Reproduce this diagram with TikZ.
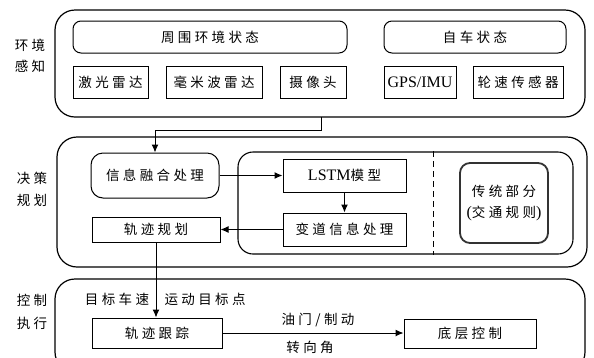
\documentclass[tikz,border=0pt]{standalone}
\usepackage{fontspec}
\setmainfont{Liberation Serif}
\newfontfamily\zhfont{Noto Sans CJK SC}[LetterSpace=25]
\newcommand{\en}[1]{{\rmfamily\fontsize{16}{18}\selectfont #1}}
\usetikzlibrary{arrows.meta}

\begin{document}
\begin{tikzpicture}[x=1pt,y=-1pt,
	every node/.style={font=\zhfont\fontsize{13.5}{16}\selectfont,inner sep=0pt},
	stage/.style={draw,line width=1.2pt,rounded corners=20pt},
	rbox/.style={draw,line width=1pt,rounded corners=8pt},
	sbox/.style={draw,line width=1pt},
	arr/.style={line width=1pt,-{Latex[length=8pt,width=7pt]}}]
	\useasboundingbox (0,0) rectangle (594,357);
	\clip (0,0) rectangle (594,357);
	\node[stage,minimum width=530pt,minimum height=107pt] (perc) at (320,63.5) {};
	\node[stage,minimum width=530pt,minimum height=130pt] (plan) at (322,202) {};
	\node[stage,minimum width=530pt,minimum height=93pt] (ctrl) at (320,325.5) {};
	\node (perc1) at (30,45) {环境};
	\node (perc2) at (30,66) {感知};
	\node (plan1) at (32,178) {决策};
	\node (plan2) at (32,200) {规划};
	\node (ctrl1) at (32,300) {控制};
	\node (ctrl2) at (32,323) {执行};
	\node[rbox,minimum width=274pt,minimum height=32pt] (env) at (210,37) {周围环境状态};
	\node[rbox,minimum width=182pt,minimum height=32pt] (ego) at (475,37) {自车状态};
	\node[sbox,minimum width=75pt,minimum height=32pt] (lidar) at (110.5,82) {激光雷达};
	\node[sbox,minimum width=96pt,minimum height=32pt] (radar) at (214,82) {毫米波雷达};
	\node[sbox,minimum width=66pt,minimum height=32pt] (cam) at (313,82) {摄像头};
	\node[sbox,minimum width=72pt,minimum height=32pt] (gps) at (420,82) {\en{GPS/IMU}};
	\node[sbox,minimum width=90pt,minimum height=32pt] (wheel) at (518,82) {轮速传感器};
	\node[draw,line width=1.1pt,rounded corners=15pt,minimum width=335pt,minimum height=102pt] (inner) at (405.5,203) {};
	\node[rbox,rounded corners=12pt,minimum width=128pt,minimum height=45pt] (fuse) at (155,175.5) {信息融合处理};
	\node[sbox,minimum width=128pt,minimum height=25pt] (path) at (156,229.5) {轨迹规划};
	\node[sbox,minimum width=123pt,minimum height=33pt] (lstm) at (344.5,175.5) {\en{LSTM}模型};
	\node[sbox,minimum width=123pt,minimum height=33pt] (lane) at (344.5,229.5) {变道信息处理};
	\node[draw,line width=1.8pt,draw=black!80,rounded corners=10pt,minimum width=88pt,minimum height=80pt,align=center] (rule) at (504,203) {传统部分\\[5pt]\en{(}交通规则\en{)}};
	\node[sbox,minimum width=130pt,minimum height=30pt] (track) at (157,333) {轨迹跟踪};
	\node[sbox,minimum width=132pt,minimum height=29pt] (low) at (470,333.5) {底层控制};
	\node (spd) at (117,299) {目标车速};
	\node (goal) at (205,299) {运动目标点};
	\node (thr) at (318,320) {油门/制动};
	\node (steer) at (310,347) {转向角};
	\coordinate (tap) at (321,117);
	\coordinate (turn) at (321,130);
	\draw[arr] (tap) -- (turn) -| (fuse.north);
	\draw[arr] (fuse.east) -- (lstm.west);
	\draw[arr] (lstm.south) -- (lane.north);
	\draw[arr] (lane.west) -- (path.east);
	\draw[line width=1pt,dash pattern=on 6pt off 4pt] (433,0 |- inner.north) -- (433,0 |- inner.south);
	\draw[arr] (path.south) -- (path.south |- track.north);
	\draw[arr] (track.east) -- (track.east -| low.west);
\end{tikzpicture}
\end{document}
